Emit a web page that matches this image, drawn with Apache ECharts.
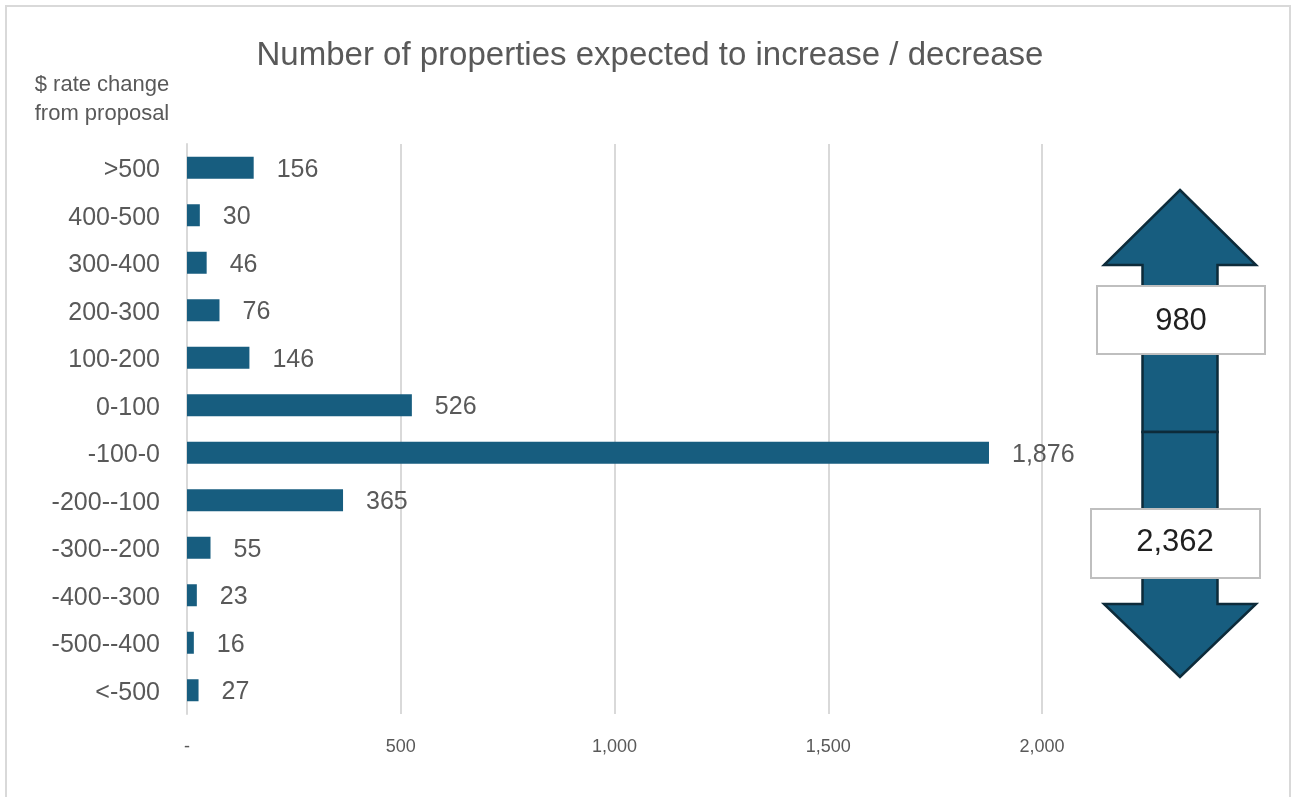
<!DOCTYPE html>
<html>
<head>
<meta charset="utf-8">
<script src="https://cdn.jsdelivr.net/npm/echarts@6/dist/echarts.min.js"></script>
<style>
  html, body { margin: 0; padding: 0; background: #ffffff; }
  #chart { width: 1291px; height: 797px; }
</style>
</head>
<body>
<div id="chart"></div>
<script>
// Rate change bands, top to bottom
const categories = ['>500', '400-500', '300-400', '200-300', '100-200', '0-100',
  '-100-0', '-200--100', '-300--200', '-400--300', '-500--400', '<-500'];
// Number of properties in each band
const counts = [156, 30, 46, 76, 146, 526, 1876, 365, 55, 23, 16, 27];
// Value axis ticks
const axisMin = 0, axisMax = 2000, axisStep = 500;

const fmt = v => v === 0 ? '-' : v.toLocaleString('en-US');

// Totals shown on the up / down arrow
const increaseBands = ['>500', '400-500', '300-400', '200-300', '100-200', '0-100'];
let totalUp = 0, totalDown = 0;
categories.forEach((c, i) => {
  if (increaseBands.includes(c)) totalUp += counts[i]; else totalDown += counts[i];
});

const barColor = '#175d7f';
const edgeColor = '#0d2b3a';
const grey = '#595959';

const chart = echarts.init(document.getElementById('chart'), null, { renderer: 'canvas' });

// Double arrow: up half and down half
const cx = 1180, shaftHalf = 37.5, headHalf = 76;
const upArrow = [[cx, 190], [cx + headHalf, 265], [cx + shaftHalf, 265], [cx + shaftHalf, 432],
  [cx - shaftHalf, 432], [cx - shaftHalf, 265], [cx - headHalf, 265]];
const downArrow = [[cx - shaftHalf, 432], [cx + shaftHalf, 432], [cx + shaftHalf, 604],
  [cx + headHalf, 604], [cx, 677], [cx - headHalf, 604], [cx - shaftHalf, 604]];

chart.setOption({
  animation: false,
  backgroundColor: '#ffffff',
  title: {
    text: 'Number of properties expected to increase / decrease',
    left: 645, top: 34, textAlign: 'center',
    textStyle: { fontFamily: 'Liberation Sans', fontSize: 33, fontWeight: 'normal', color: grey }
  },
  grid: { left: 187, right: 249, top: 144, bottom: 83, containLabel: false },
  xAxis: {
    type: 'value', min: axisMin, max: axisMax, interval: axisStep,
    axisLine: { show: false }, axisTick: { show: false },
    splitLine: { show: true, lineStyle: { color: '#d9d9d9', width: 2 } },
    axisLabel: {
      formatter: fmt, margin: 24,
      fontFamily: 'Liberation Sans Narrow, Liberation Sans', fontSize: 18, color: grey
    }
  },
  yAxis: {
    type: 'category', data: categories, inverse: true,
    axisLine: { show: true, lineStyle: { color: '#d9d9d9', width: 2 } },
    axisTick: { show: false },
    axisLabel: {
      margin: 27, formatter: v => '{c|' + v + '}',
      rich: { c: { fontFamily: 'Liberation Sans', fontSize: 25, color: grey, padding: [5, 0, 0, 0] } }
    }
  },
  series: [{
    type: 'bar', data: counts, barWidth: 22,
    itemStyle: { color: barColor },
    label: {
      show: true, position: 'right', distance: 23, formatter: p => fmt(p.value),
      offset: [0, 2],
      fontFamily: 'Liberation Sans', fontSize: 25, color: grey
    }
  }],
  graphic: [
    { type: 'rect', shape: { x: 6, y: 6, width: 1284, height: 800 }, silent: true,
      style: { fill: 'none', stroke: '#d9d9d9', lineWidth: 2 } },
    { type: 'text', x: 102, y: 85, silent: true,
      style: { text: '$ rate change', align: 'center', verticalAlign: 'middle',
        font: '22px "Liberation Sans"', fill: grey } },
    { type: 'text', x: 102, y: 114, silent: true,
      style: { text: 'from proposal', align: 'center', verticalAlign: 'middle',
        font: '22px "Liberation Sans"', fill: grey } },
    { type: 'polygon', shape: { points: upArrow }, silent: true,
      style: { fill: barColor, stroke: edgeColor, lineWidth: 2.5 } },
    { type: 'polygon', shape: { points: downArrow }, silent: true,
      style: { fill: barColor, stroke: edgeColor, lineWidth: 2.5 } },
    { type: 'rect', shape: { x: 1097, y: 286, width: 168, height: 68 }, silent: true,
      style: { fill: '#ffffff', stroke: '#bfbfbf', lineWidth: 2 } },
    { type: 'text', x: 1181, y: 321, silent: true,
      style: { text: totalUp.toLocaleString('en-US'), align: 'center', verticalAlign: 'middle',
        font: '31px "Liberation Sans"', fill: '#1f1f1f' } },
    { type: 'rect', shape: { x: 1091, y: 509, width: 169, height: 69 }, silent: true,
      style: { fill: '#ffffff', stroke: '#bfbfbf', lineWidth: 2 } },
    { type: 'text', x: 1175, y: 542, silent: true,
      style: { text: totalDown.toLocaleString('en-US'), align: 'center', verticalAlign: 'middle',
        font: '31px "Liberation Sans"', fill: '#1f1f1f' } }
  ]
});
</script>
</body>
</html>
